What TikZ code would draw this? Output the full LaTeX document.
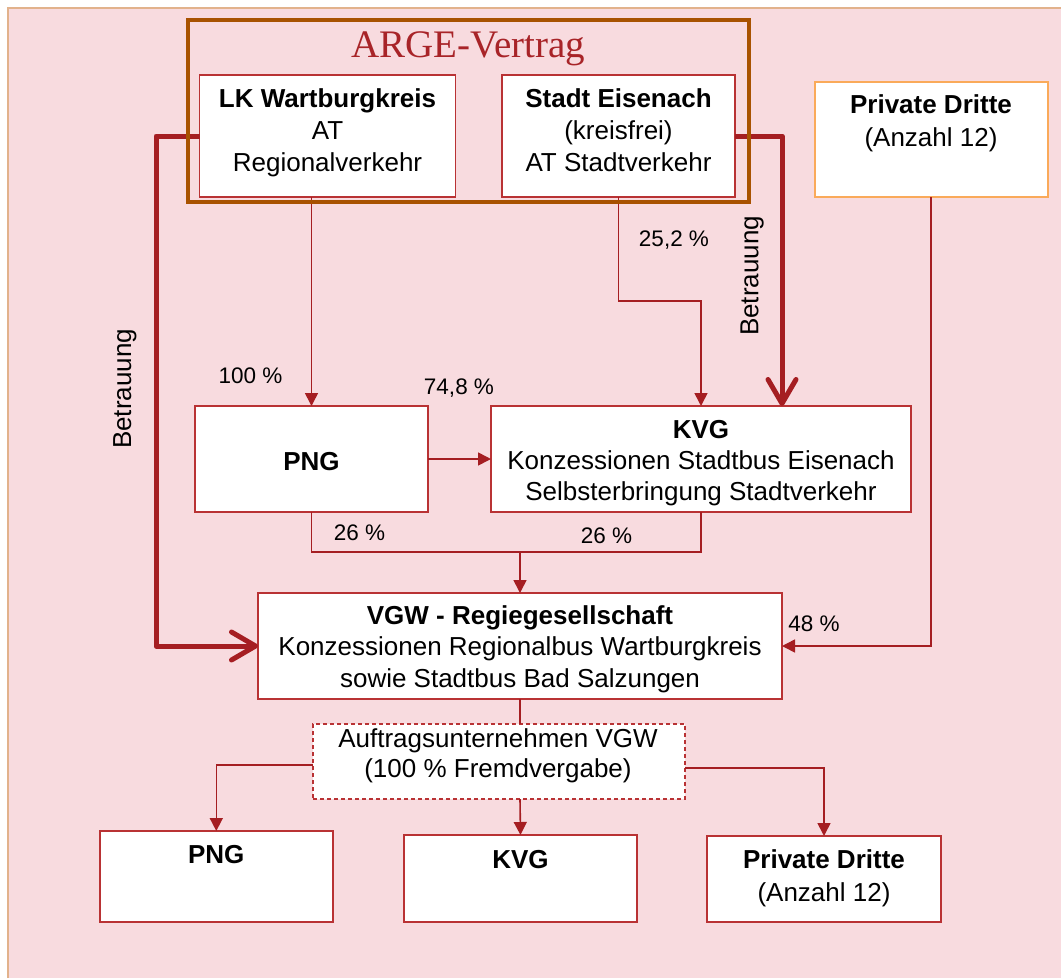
\documentclass[tikz,border=0pt]{standalone}
\usepackage{fontspec}
\setmainfont{Liberation Sans}
\newfontfamily\argefont{Liberation Serif}
\usetikzlibrary{arrows.meta,calc}
\definecolor{bgpink}{RGB}{248,219,223}
\definecolor{frametan}{RGB}{226,178,140}
\definecolor{argebrown}{RGB}{168,82,0}
\definecolor{linered}{RGB}{165,30,34}
\definecolor{boxred}{RGB}{185,50,52}
\definecolor{privorange}{RGB}{250,170,90}
\definecolor{titlered}{RGB}{168,36,40}
\begin{document}
\begin{tikzpicture}[x=1pt,y=-1pt,
  boxnode/.style={draw=boxred, line width=1.6pt, fill=white, inner sep=0pt, outer sep=0pt},
  lowbox/.style={boxnode, line width=2pt},
  txt/.style={font=\fontsize{26}{32}\selectfont, align=center, anchor=base, inner sep=0pt},
  lbl/.style={font=\fontsize{22.5}{27}\selectfont, anchor=base, inner sep=0pt},
  conn/.style={draw=linered, line width=1.6pt},
  arr/.style={conn, -{Triangle[length=13pt,width=13pt]}},
  thickarr/.style={draw=linered, line width=5pt, line join=round, -{Straight Barb[length=24pt,width=28pt,round]}},
]
\useasboundingbox (0,0) rectangle (1061,978);
\fill[bgpink] (8,8) rectangle (1061,978);
\draw[frametan, line width=1.5pt] (8,978) -- (8,8) -- (1061,8);

% boxes
\node[boxnode, minimum width=256pt, minimum height=122pt] (lk) at (327.5,136) {};
\node[boxnode, minimum width=233pt, minimum height=122pt] (stadt) at (618.5,136) {};
\node[boxnode, draw=privorange, line width=2pt, minimum width=233pt, minimum height=115pt] (privtop) at (931,139.5) {};
\node[boxnode, minimum width=233pt, minimum height=106pt] (png) at (311.5,459) {};
\node[boxnode, minimum width=420pt, minimum height=106pt] (kvg) at (701,459) {};
\node[boxnode, minimum width=524pt, minimum height=106pt] (vgw) at (520,646) {};
\node[boxnode, line width=1.3pt, dash pattern=on 4pt off 3pt, minimum width=372pt, minimum height=75pt] (auf) at (499,761.5) {};
\node[lowbox, minimum width=233pt, minimum height=91pt] (pngb) at (216.3,876.5) {};
\node[lowbox, minimum width=233pt, minimum height=87pt] (kvgb) at (520.5,878.5) {};
\node[lowbox, minimum width=234pt, minimum height=86pt] (privb) at (824,879) {};

% thick Betrauung connectors
\coordinate (lcorner) at (156,136);
\draw[thickarr] (lk.west) -- (lcorner) |- (vgw.west);
\draw[thickarr] (stadt.east) -| ($(kvg.north west)+(291,0)$);

% thin connectors
\coordinate (sj) at (660,301);
\coordinate (mj) at (520,552);
\draw[arr] (lk.south -| png.north) -- (png.north);
\draw[arr] (stadt.south) |- (sj) -| (kvg.north);
\draw[arr] (png.east) -- (kvg.west);
\draw[conn] (png.south) |- (mj);
\draw[conn] (kvg.south) |- (mj);
\draw[arr] (mj) -- (vgw.north);
\draw[arr] (privtop.south) |- (vgw.east);
\draw[conn] (vgw.south) -- (vgw.south |- auf.north);
\draw[arr] ($(auf.west)+(0,3.5)$) -| (pngb.north);
\draw[arr] (vgw.south |- auf.south) -- (kvgb.north);
\draw[arr] ($(auf.east)+(0,6.5)$) -| (privb.north);

% ARGE frame
\node[draw=argebrown, line width=4pt, inner sep=0pt, minimum width=560.7pt, minimum height=182.7pt] (arge) at (468.35,111.05) {};
\node[font=\argefont\fontsize{39}{45}\selectfont, text=titlered, anchor=base, inner sep=0pt] (argetitle) at (468,57) {ARGE-Vertrag};

% texts (base anchor = baseline of last line)
\node[txt] (lkt) at (327.5,171) {\textbf{LK Wartburgkreis}\\AT\\Regionalverkehr};
\node[txt] (stadtt) at (618.5,171) {\textbf{Stadt Eisenach}\\(kreisfrei)\\AT Stadtverkehr};
\node[txt, font=\fontsize{26}{33}\selectfont] (privtopt) at (931,146) {\textbf{Private Dritte}\\(Anzahl 12)};
\node[txt] (pngt) at (311.5,470) {\textbf{PNG}};
\node[txt, font=\fontsize{26}{31}\selectfont] (kvgt) at (701,500) {\textbf{KVG}\\Konzessionen Stadtbus Eisenach\\Selbsterbringung Stadtverkehr};
\node[txt, font=\fontsize{26}{31.5}\selectfont] (vgwt) at (520,687) {\textbf{VGW - Regiegesellschaft}\\Konzessionen Regionalbus Wartburgkreis\\sowie Stadtbus Bad Salzungen};
\node[txt, font=\fontsize{26}{30}\selectfont] (auft) at (498,777) {Auftragsunternehmen VGW\\(100 \% Fremdvergabe)};
\node[txt] (pngbt) at (216.3,863) {\textbf{PNG}};
\node[txt] (kvgbt) at (520.5,868) {\textbf{KVG}};
\node[txt, font=\fontsize{26}{33}\selectfont] (privbt) at (824,901) {\textbf{Private Dritte}\\(Anzahl 12)};

% labels
\node[lbl] (l100) at (250.5,383) {100 \%};
\node[lbl] (l748) at (459,394) {74,8 \%};
\node[lbl] (l252) at (674,246) {25,2 \%};
\node[lbl] (l26a) at (359.5,540) {26 \%};
\node[lbl] (l26b) at (606.5,543) {26 \%};
\node[lbl] (l48) at (814,631) {48 \%};
\node[font=\fontsize{26}{32}\selectfont, rotate=90, inner sep=0pt] (betl) at (125,389) {Betrauung};
\node[font=\fontsize{26}{32}\selectfont, rotate=90, inner sep=0pt] (betr) at (752,276) {Betrauung};
\end{tikzpicture}
\end{document}
